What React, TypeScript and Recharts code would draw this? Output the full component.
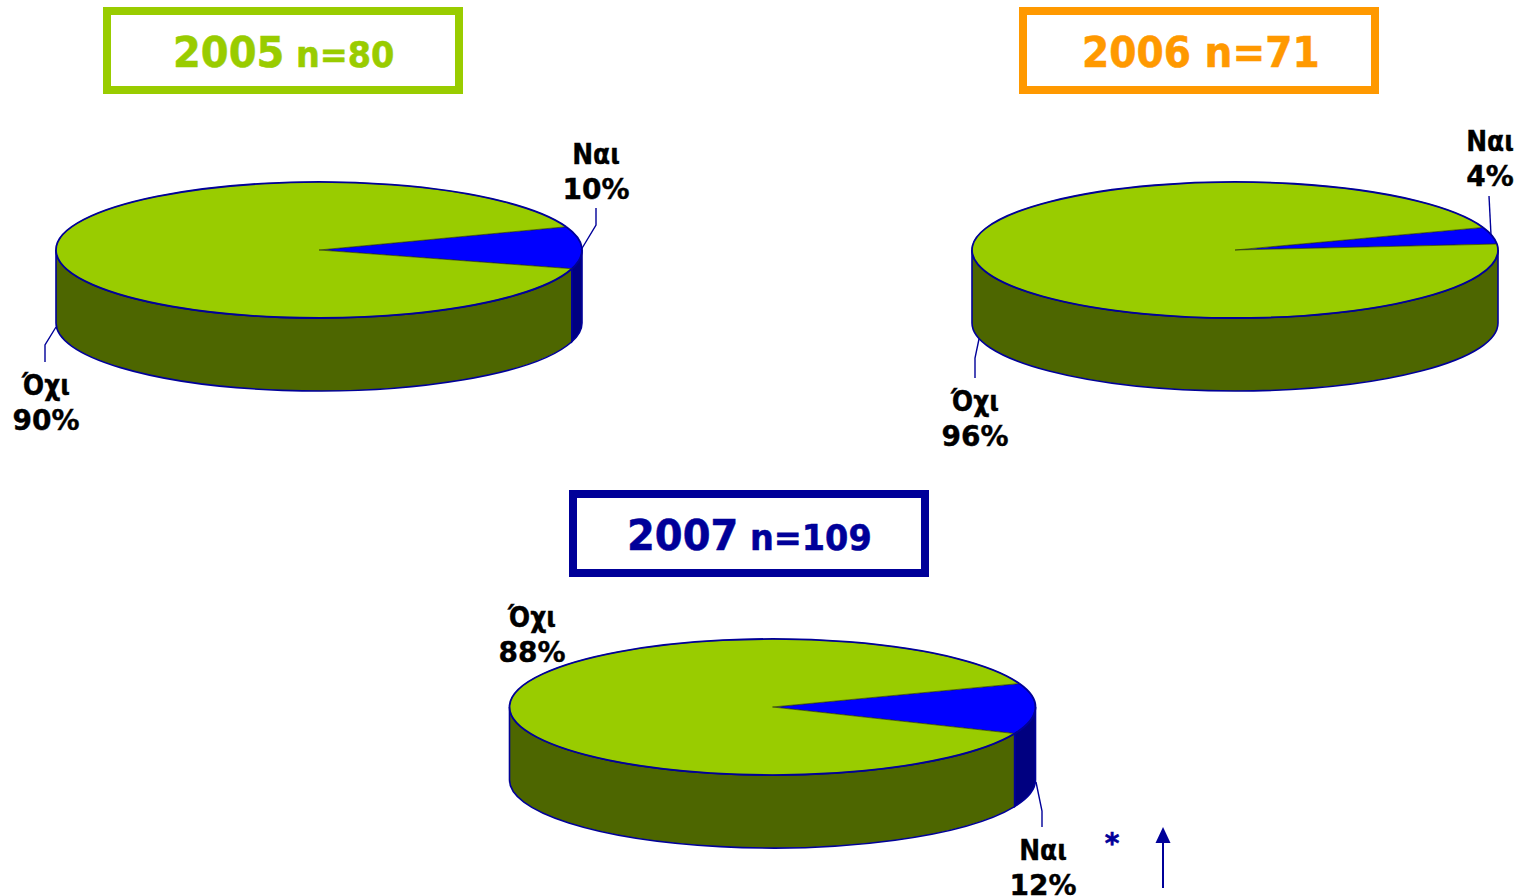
import { Pie, PieChart } from 'recharts'

const CATEGORIES = ['Ναι', 'Όχι']
const VALUES_2005 = [10, 90]
const VALUES_2006 = [4, 96]
const VALUES_2007 = [12, 88]

const TOP_COLORS = ['#0000ff', '#99cc00']
const WALL_COLORS = ['#000080', '#4d6600']
const EDGE = '#000099'
const FONT = '"DejaVu Sans", Verdana, sans-serif'

const RX = 263
const RY = 68
const DEPTH = 73
const RAD = Math.PI / 180

const buildRows = (values: number[], colors: string[]) =>
  CATEGORIES.map((name, i) => ({ name, value: values[i], fill: colors[i] }))

const at = (cx: number, cy: number, deg: number) => [cx + RX * Math.cos(deg * RAD), cy - RY * Math.sin(deg * RAD)]

// flat pie top, squashed into an ellipse
function TopSector(props: any) {
  const { cx, cy, startAngle, endAngle, fill } = props
  const [x0, y0] = at(cx, cy, startAngle)
  const [x1, y1] = at(cx, cy, endAngle)
  const large = Math.abs(endAngle - startAngle) > 180 ? 1 : 0
  const arc = `M${x0},${y0}A${RX},${RY} 0 ${large} 0 ${x1},${y1}`
  return (
    <g>
      <path d={`${arc}L${cx},${cy}Z`} fill={fill} stroke="#26330a" strokeWidth={0.6} />
      <path d={arc} fill="none" stroke={EDGE} strokeWidth={1.8} />
    </g>
  )
}

// side wall: only the part of the sector on the front half of the ellipse
function WallSector(props: any) {
  const { cx, cy, startAngle, endAngle, fill } = props
  const parts = []
  for (let k = -1; k <= 1; k++) {
    const a0 = Math.max(startAngle, 180 + 360 * k)
    const a1 = Math.min(endAngle, 360 + 360 * k)
    if (a1 <= a0) continue
    const [x0, y0] = at(cx, cy, a0)
    const [x1, y1] = at(cx, cy, a1)
    const large = a1 - a0 > 180 ? 1 : 0
    parts.push(
      <path
        key={k}
        d={`M${x0},${y0}A${RX},${RY} 0 ${large} 0 ${x1},${y1}L${x1},${y1 + DEPTH}A${RX},${RY} 0 ${large} 1 ${x0},${y0 + DEPTH}Z`}
        fill={fill}
        stroke={EDGE}
        strokeWidth={1.6}
      />
    )
  }
  return <g>{parts}</g>
}

interface LabelSpot {
  x: number
  y: number
  line: string
}

const pieLabel = (spots: LabelSpot[]) => (props: any) => {
  const spot = spots[props.index]
  const textStyle = { fontFamily: FONT, fontWeight: 'bold', fontSize: 28, fill: '#000', stroke: '#000', strokeWidth: 0.4 }
  return (
    <g>
      {spot.line && <polyline points={spot.line} fill="none" stroke={EDGE} strokeWidth={1.4} />}
      <text transform={`translate(${spot.x},${spot.y}) scale(0.89,1)`} textAnchor="middle" {...textStyle}>
        {props.name}
      </text>
      <text x={spot.x} y={spot.y + 35} textAnchor="middle" {...textStyle}>
        {props.value}%
      </text>
    </g>
  )
}

const SPOTS_2005: LabelSpot[] = [
  { x: 596, y: 164, line: '596,208 596,225 581,250' },
  { x: 46, y: 395, line: '45,362 45,345 56,327' },
]
const SPOTS_2006: LabelSpot[] = [
  { x: 1490, y: 151, line: '1489,196 1491,235' },
  { x: 975, y: 411, line: '975,378 975,358 979,339' },
]
const SPOTS_2007: LabelSpot[] = [
  { x: 1043, y: 860, line: '1042,827 1042,811 1036,782' },
  { x: 532, y: 627, line: '' },
]

interface TitleProps {
  x: number
  y: number
  color: string
  year: string
  n: string
  textX: number
  baseline: number
  squeeze: number
  nSize: number
}

function TitleBox({ x, y, color, year, n, textX, baseline, squeeze, nSize }: TitleProps) {
  return (
    <g>
      <rect x={x + 4} y={y + 4} width={352} height={79} fill="#fff" stroke={color} strokeWidth={8} />
      <text
        transform={`translate(${textX},${baseline}) scale(${squeeze},1)`}
        fontFamily={FONT}
        fontWeight="bold"
        fill={color}
        stroke={color}
        strokeWidth={0.6}
        fontSize={nSize}
      >
        <tspan fontSize={43}>{year}</tspan> {n}
      </text>
    </g>
  )
}

export default function App() {
  const pies = [
    { cx: 319, cy: 250, values: VALUES_2005, spots: SPOTS_2005, start: -16 },
    { cx: 1235, cy: 250, values: VALUES_2006, spots: SPOTS_2006, start: 5 },
    { cx: 772.5, cy: 707, values: VALUES_2007, spots: SPOTS_2007, start: -23 },
  ]

  return (
    <div style={{ position: 'absolute', left: 0, top: 0, width: 1524, height: 896, overflow: 'hidden' }}>
      <PieChart width={1524} height={896} margin={{ top: 0, right: 0, bottom: 0, left: 0 }}>
        {pies.map((p) => (
          <Pie
            key={`wall-${p.cx}`}
            data={buildRows(p.values, WALL_COLORS)}
            dataKey="value"
            nameKey="name"
            cx={p.cx}
            cy={p.cy}
            outerRadius={RX}
            startAngle={p.start}
            endAngle={p.start + 360}
            shape={WallSector}
            isAnimationActive={false}
          />
        ))}
        {pies.map((p) => (
          <Pie
            key={`top-${p.cx}`}
            data={buildRows(p.values, TOP_COLORS)}
            dataKey="value"
            nameKey="name"
            cx={p.cx}
            cy={p.cy}
            outerRadius={RX}
            startAngle={p.start}
            endAngle={p.start + 360}
            shape={TopSector}
            label={pieLabel(p.spots)}
            labelLine={false}
            isAnimationActive={false}
          />
        ))}
      </PieChart>
      <svg width={1524} height={896} style={{ position: 'absolute', left: 0, top: 0, pointerEvents: 'none' }}>
        <TitleBox x={103} y={7} color="#99cc00" year="2005" n="n=80" textX={173} baseline={67} squeeze={0.93} nSize={36} />
        <TitleBox x={1019} y={7} color="#ff9900" year="2006" n="n=71" textX={1082} baseline={67} squeeze={0.91} nSize={43} />
        <TitleBox x={569} y={490} color="#000099" year="2007" n="n=109" textX={627} baseline={550} squeeze={0.93} nSize={36} />
        <text x={1112} y={853} textAnchor="middle" fontFamily={FONT} fontWeight="bold" fontSize={28} fill={EDGE} stroke={EDGE} strokeWidth={0.6}>
          *
        </text>
        <line x1={1163} y1={888} x2={1163} y2={840} stroke={EDGE} strokeWidth={2} />
        <polygon points="1163,827 1155.5,843 1170.5,843" fill={EDGE} />
      </svg>
    </div>
  )
}
